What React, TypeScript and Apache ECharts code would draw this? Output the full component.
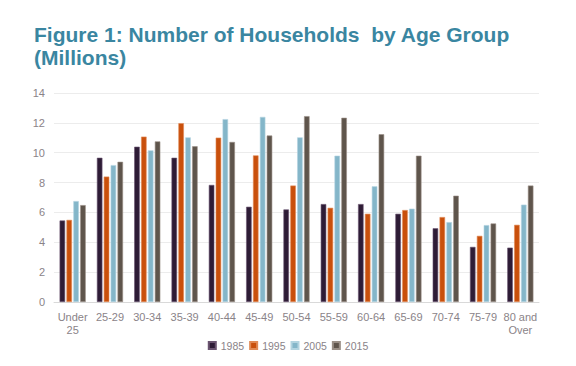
import React, { useEffect, useRef } from "react";
import * as echarts from "echarts";

const categories = ["Under\n25", "25-29", "30-34", "35-39", "40-44", "45-49", "50-54", "55-59", "60-64", "65-69", "70-74", "75-79", "80 and\nOver"];
const years = ["1985", "1995", "2005", "2015"];
const values1985 = [5.46, 9.66, 10.4, 9.66, 7.84, 6.38, 6.2, 6.56, 6.56, 5.91, 4.94, 3.69, 3.64];
const values1995 = [5.5, 8.4, 11.08, 11.98, 11.01, 9.82, 7.8, 6.31, 5.91, 6.16, 5.69, 4.43, 5.17];
const values2005 = [6.76, 9.17, 10.16, 11.03, 12.25, 12.4, 11.03, 9.8, 7.75, 6.25, 5.35, 5.15, 6.52];
const values2015 = [6.49, 9.39, 10.76, 10.43, 10.72, 11.15, 12.45, 12.34, 11.24, 9.8, 7.12, 5.26, 7.8];
const yTicks = [0, 2, 4, 6, 8, 10, 12, 14];

const colors = ["#2e1c36", "#c9500c", "#84b6c9", "#5f554c"];
const borders = ["#6a5470", "#e08a55", "#b3d4e0", "#9a8f86"];

export default function App() {
  const ref = useRef<HTMLDivElement>(null);
  useEffect(() => {
    const chart = echarts.init(ref.current!, null, { renderer: "svg" });
    const seriesData = [values1985, values1995, values2005, values2015];
    chart.setOption({
      animation: false,
      backgroundColor: "#ffffff",
      title: {
        text: "Figure 1: Number of Households  by Age Group\n(Millions)",
        left: 29,
        top: 18,
        textStyle: {
          fontFamily: "Liberation Sans, Arial, sans-serif",
          fontWeight: "bold",
          fontSize: 21,
          lineHeight: 23,
          color: "#3a86a1",
        },
      },
      legend: {
        data: years,
        bottom: 10,
        left: "center",
        itemWidth: 7,
        itemHeight: 7,
        itemGap: 5,
        icon: "rect",
        textStyle: { fontFamily: "Liberation Sans, Arial, sans-serif", fontSize: 10.5, color: "#8a8388" },
      },
      grid: { left: 54, right: 37, top: 93, bottom: 64, containLabel: false },
      xAxis: {
        type: "category",
        data: categories,
        axisLine: { lineStyle: { color: "#d9d9d9" } },
        axisTick: { show: false },
        axisLabel: {
          fontFamily: "Liberation Sans, Arial, sans-serif",
          fontSize: 11,
          lineHeight: 13,
          color: "#8a8388",
          margin: 8,
          interval: 0,
        },
      },
      yAxis: {
        type: "value",
        min: 0,
        max: 14,
        interval: 2,
        axisLine: { show: false },
        axisTick: { show: false },
        splitLine: { lineStyle: { color: "#ececec" } },
        axisLabel: {
          fontFamily: "Liberation Sans, Arial, sans-serif",
          fontSize: 11,
          color: "#8a8388",
          margin: 9,
          formatter: (v: number) => (yTicks.includes(v) ? String(v) : ""),
        },
      },
      series: years.map((y, i) => ({
        name: y,
        type: "bar",
        data: seriesData[i],
        barGap: "25%",
        barCategoryGap: "30%",
        itemStyle: { color: colors[i], borderColor: borders[i], borderWidth: 0.6 },
      })),
    });
    return () => chart.dispose();
  }, []);
  return <div ref={ref} style={{ width: 576, height: 366, margin: -8 }} />;
}
